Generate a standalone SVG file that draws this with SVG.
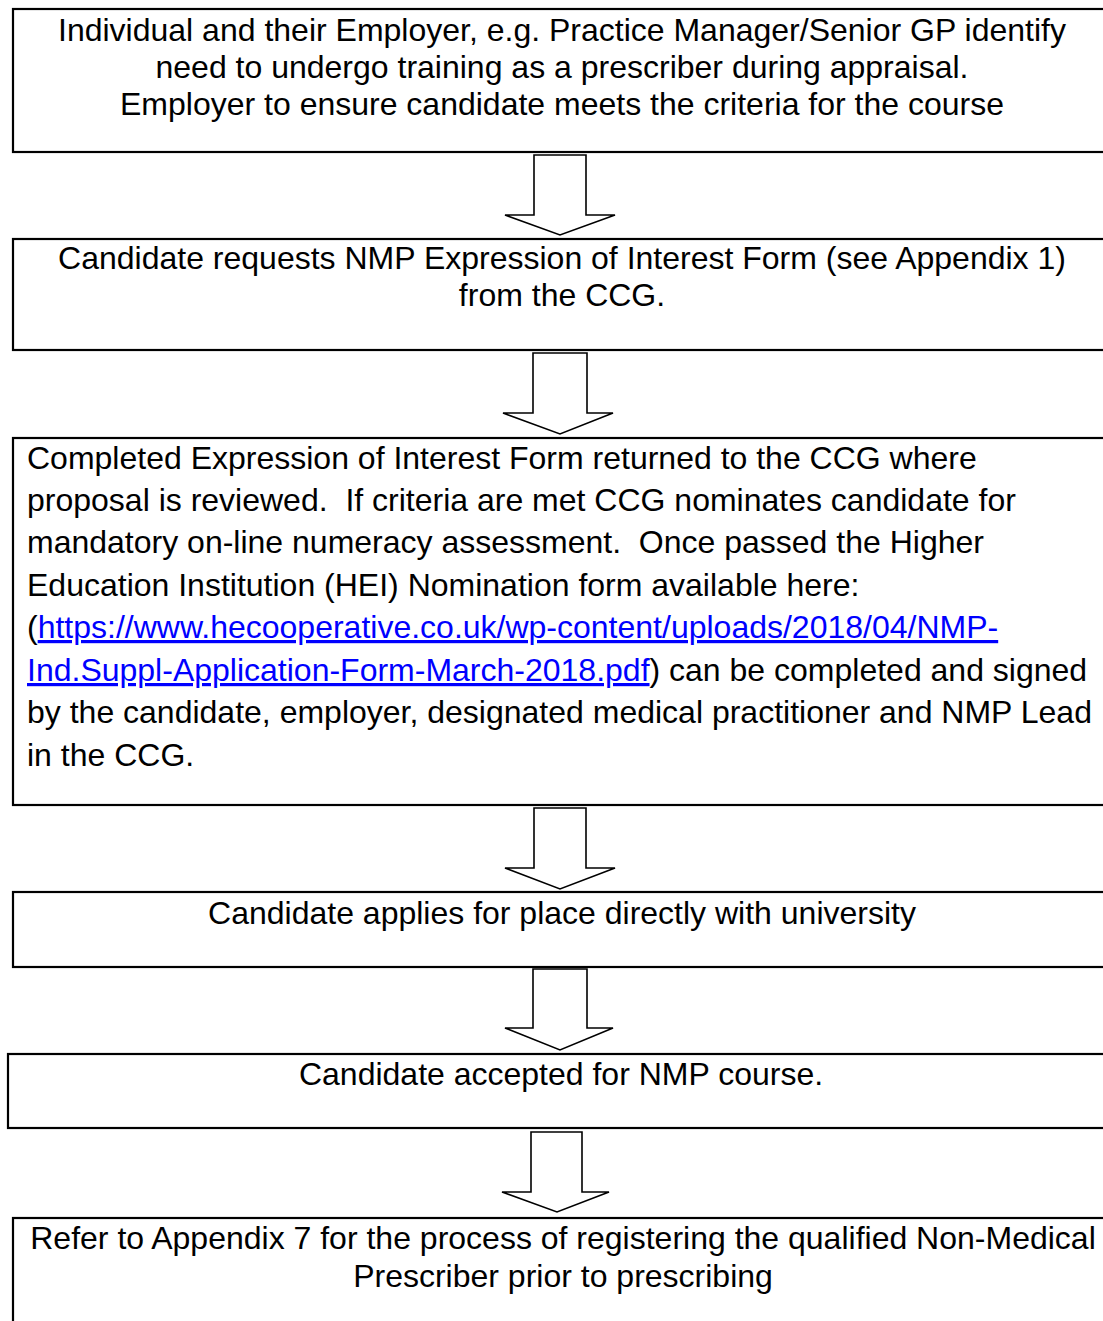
<svg xmlns="http://www.w3.org/2000/svg" width="1103" height="1321" viewBox="0 0 1103 1321">
<style>
.box{fill:#fff;stroke:#000;stroke-width:2.2}
.arr{fill:#fff;stroke:#000;stroke-width:1.6;stroke-linejoin:miter}
text{font-family:"Liberation Sans",Arial,sans-serif;font-size:32px;fill:#000;white-space:pre}
.c{text-anchor:middle}
.link{fill:#0000ff;text-decoration:underline}
</style>
<rect width="1103" height="1321" fill="#fff"/>
<g id="connectors">
<polygon class="arr" points="534,155 586,155 586,215 615,215 560,235 505,215 534,215"/>
<polygon class="arr" points="533,353 587,353 587,413 613,413 560,434 503,413 533,413"/>
<polygon class="arr" points="534,808 586,808 586,868 615,868 560,889 505,868 534,868"/>
<polygon class="arr" points="533,969 587,969 587,1028 613,1028 560,1050 505,1028 533,1028"/>
<polygon class="arr" points="531,1132 582,1132 582,1192 609,1192 557,1212 502,1192 531,1192"/>
</g>
<g id="node1">
<rect class="box" x="13" y="9" width="1100" height="143"/>
<text class="c" x="562" y="41">Individual and their Employer, e.g. Practice Manager/Senior GP identify</text>
<text class="c" x="562" y="78">need to undergo training as a prescriber during appraisal.</text>
<text class="c" x="562" y="115">Employer to ensure candidate meets the criteria for the course</text>
</g>
<g id="node2">
<rect class="box" x="13" y="239" width="1100" height="111"/>
<text class="c" x="562" y="269">Candidate requests NMP Expression of Interest Form (see Appendix 1)</text>
<text class="c" x="562" y="306">from the CCG.</text>
</g>
<g id="node3">
<rect class="box" x="13" y="438" width="1100" height="367"/>
<text x="27" y="469">Completed Expression of Interest Form returned to the CCG where</text>
<text x="27" y="511">proposal is reviewed.  If criteria are met CCG nominates candidate for</text>
<text x="27" y="553">mandatory on-line numeracy assessment.  Once passed the Higher</text>
<text x="27" y="596">Education Institution (HEI) Nomination form available here:</text>
<text x="27" y="638">(<tspan class="link">https://www.hecooperative.co.uk/wp-content/uploads/2018/04/NMP-</tspan></text>
<text x="27" y="681"><tspan class="link">Ind.Suppl-Application-Form-March-2018.pdf</tspan>) can be completed and signed</text>
<text x="27" y="723">by the candidate, employer, designated medical practitioner and NMP Lead</text>
<text x="27" y="766">in the CCG.</text>
</g>
<g id="node4">
<rect class="box" x="13" y="892" width="1100" height="75"/>
<text class="c" x="562" y="924">Candidate applies for place directly with university</text>
</g>
<g id="node5">
<rect class="box" x="8" y="1054" width="1106" height="74"/>
<text class="c" x="561" y="1085">Candidate accepted for NMP course.</text>
</g>
<g id="node6">
<rect class="box" x="13" y="1218" width="1100" height="120"/>
<text class="c" x="563" y="1249">Refer to Appendix 7 for the process of registering the qualified Non-Medical</text>
<text class="c" x="563" y="1287">Prescriber prior to prescribing</text>
</g>
</svg>
